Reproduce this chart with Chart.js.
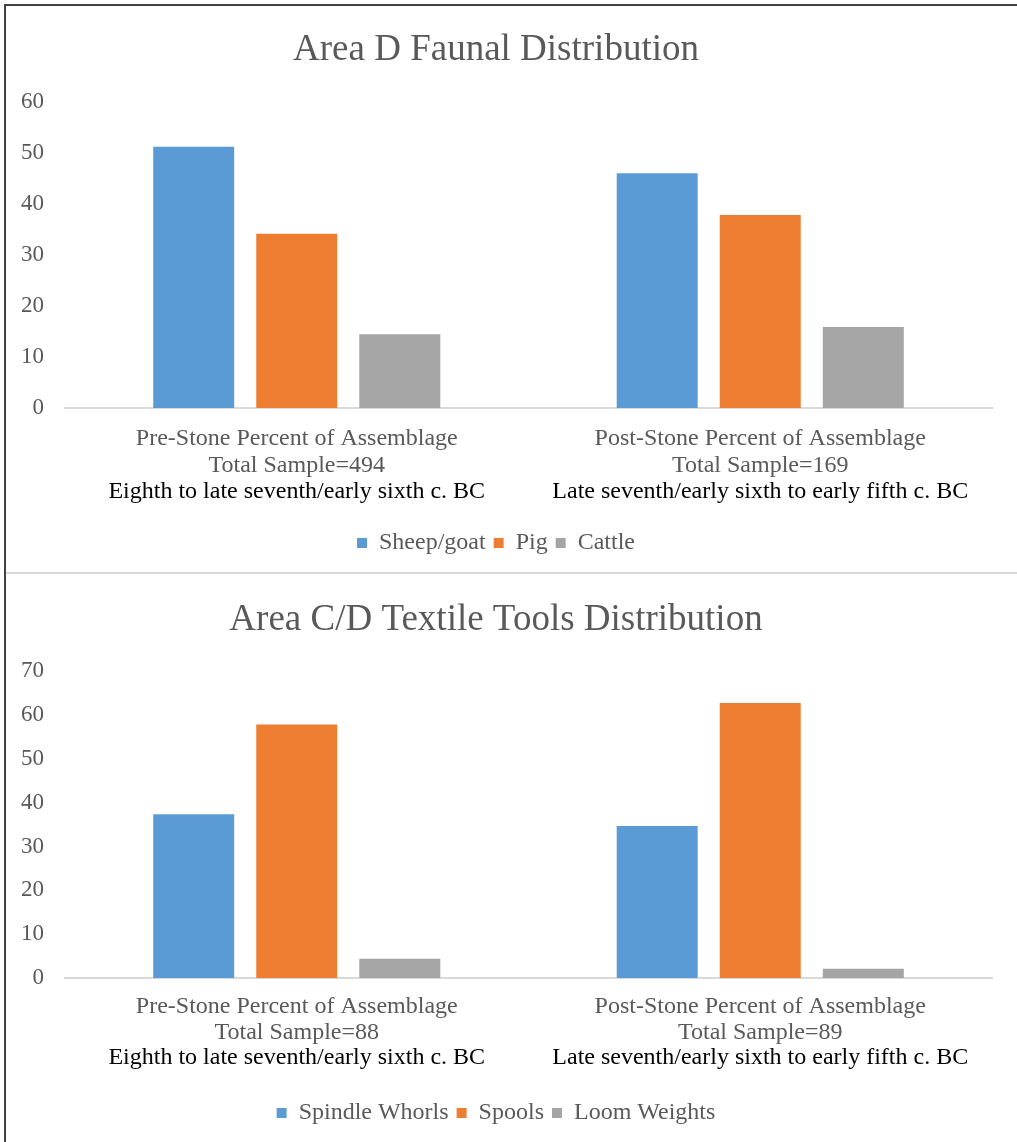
<!DOCTYPE html>
<html>
<head>
<meta charset="utf-8">
<script src="https://cdn.jsdelivr.net/npm/chart.js@4.4.1/dist/chart.umd.min.js"></script>
<style>
html, body { margin: 0; background: #fff; overflow: hidden; }
#wrap { position: relative; width: 1017px; height: 1142px; overflow: hidden; background: #fff; }
canvas { position: absolute; left: 0; }
#faunaChart { top: 7px; }
#textileChart { top: 575px; }
.rule { position: absolute; }
</style>
</head>
<body>
<div id="wrap">
  <canvas id="faunaChart" width="1005" height="567"></canvas>
  <canvas id="textileChart" width="1005" height="567"></canvas>
  <div class="rule" style="left:4px;top:4px;width:1013px;height:2px;background:#404040"></div>
  <div class="rule" style="left:4px;top:4px;width:2px;height:1138px;background:#404040"></div>
  <div class="rule" style="left:6px;top:572px;width:1011px;height:2px;background:#d9d9d9"></div>
</div>
<script>
// group labels (first two lines grey, date line black underneath)
var faunaGroups = [
    ["Pre-Stone Percent of Assemblage", "Total Sample=494"],
    ["Post-Stone Percent of Assemblage", "Total Sample=169"]
];
var textileGroups = [
    ["Pre-Stone Percent of Assemblage", "Total Sample=88"],
    ["Post-Stone Percent of Assemblage", "Total Sample=89"]
];
var periods = [
    "Eighth to late seventh/early sixth c. BC",
    "Late seventh/early sixth to early fifth c. BC"
];

var faunaSeries = ["Sheep/goat", "Pig", "Cattle"];
var sheepGoat = [51.3, 46.1];
var pig = [34.2, 37.9];
var cattle = [14.5, 15.9];

var textileSeries = ["Spindle Whorls", "Spools", "Loom Weights"];
var spindleWhorls = [37.4, 34.7];
var spools = [57.9, 62.8];
var loomWeights = [4.4, 2.1];

var barColors = ["#5b9bd5", "#ed7d31", "#a5a5a5"];
var serif = "'Liberation Serif', 'Times New Roman', 'DejaVu Serif', serif";
var grey = "#595959";

function drawChart(id, opts) {
    return new Chart(document.getElementById(id), {
        type: "bar",
        data: {
            labels: opts.groups,
            datasets: opts.series.map(function(name, i) {
                return {
                    label: name,
                    data: opts.values[i],
                    backgroundColor: barColors[i],
                    borderWidth: 0,
                    categoryPercentage: 0.667,
                    barPercentage: 0.786
                };
            })
        },
        options: {
            responsive: false,
            animation: false,
            layout: { padding: { left: 0, right: 13, top: 0, bottom: opts.padBottom } },
            plugins: {
                title: {
                    display: true,
                    text: opts.title,
                    color: grey,
                    font: { family: serif, size: 37, weight: "normal", lineHeight: 1.2 },
                    padding: { top: opts.titleTop, bottom: opts.titleBottom }
                },
                legend: {
                    position: "bottom",
                    labels: {
                        color: grey,
                        boxWidth: 10,
                        boxHeight: 10,
                        padding: 8,
                        font: { family: serif, size: 24 }
                    }
                },
                tooltip: { enabled: false }
            },
            scales: {
                y: {
                    min: 0,
                    max: opts.yMax,
                    ticks: { stepSize: 10, padding: 21, color: grey, font: { family: serif, size: 23 } },
                    grid: { display: false, drawTicks: false },
                    border: { display: false },
                    afterFit: function(s) { s.width = 65; }
                },
                x: {
                    weight: 0,
                    grid: { display: false, drawTicks: false },
                    border: { color: "#d9d9d9", width: 2 },
                    ticks: {
                        padding: opts.xPad, color: grey, maxRotation: 0, autoSkip: false,
                        font: { family: serif, size: 24, lineHeight: opts.lineH }
                    },
                    afterFit: function(s) { s.height = opts.xH; }
                },
                x2: {
                    type: "category",
                    position: "bottom",
                    labels: periods,
                    offset: true,
                    weight: 1,
                    grid: { display: false, drawTicks: false },
                    border: { display: false },
                    ticks: {
                        padding: 0, color: "#000", maxRotation: 0, autoSkip: false,
                        font: { family: serif, size: 24, lineHeight: opts.lineH }
                    },
                    afterFit: function(s) { s.height = opts.x2H; }
                }
            }
        }
    });
}

drawChart("faunaChart", {
    title: "Area D Faunal Distribution",
    groups: faunaGroups,
    series: faunaSeries,
    values: [sheepGoat, pig, cattle],
    yMax: 60,
    titleTop: 21, titleBottom: 30,
    xPad: 17, lineH: "27px", xH: 70.5,
    x2H: 44.5,
    padBottom: 9
});

drawChart("textileChart", {
    title: "Area C/D Textile Tools Distribution",
    groups: textileGroups,
    series: textileSeries,
    values: [spindleWhorls, spools, loomWeights],
    yMax: 70,
    titleTop: 23, titleBottom: 29,
    xPad: 16, lineH: "26px", xH: 67,
    x2H: 48,
    padBottom: 7
});
</script>
</body>
</html>
